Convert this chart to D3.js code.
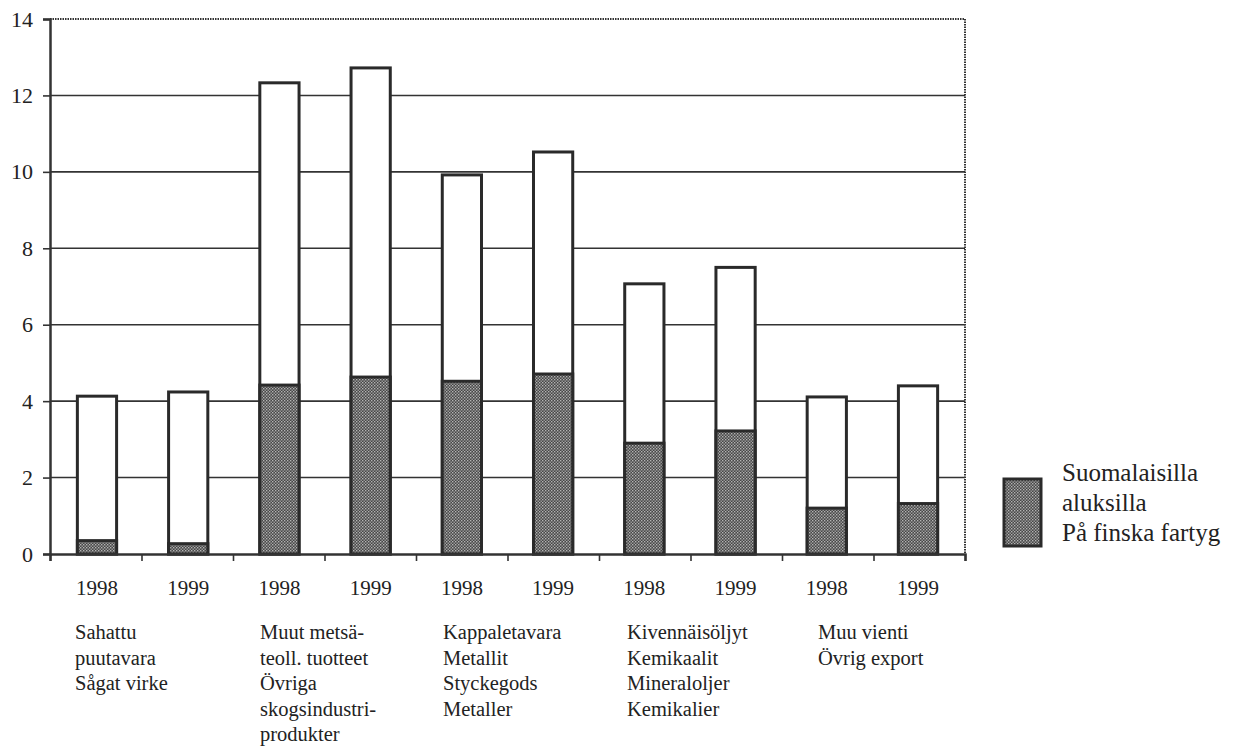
<!DOCTYPE html>
<html><head><meta charset="utf-8">
<script src="https://cdn.jsdelivr.net/npm/d3@7"></script>
<style>body{margin:0;background:#fff}svg{display:block}text{font-family:"Liberation Serif","Times New Roman",serif;fill:#222}</style>
</head><body><svg id="c" width="1233" height="750"></svg>
<script>
const years = ["1998","1999","1998","1999","1998","1999","1998","1999","1998","1999"];
const totals = [4.13, 4.24, 12.33, 12.72, 9.92, 10.52, 7.07, 7.5, 4.11, 4.4];
const finnish = [0.35, 0.27, 4.42, 4.63, 4.52, 4.71, 2.9, 3.22, 1.2, 1.32];
const groupLabels = [
  ["Sahattu","puutavara","Sågat virke"],
  ["Muut metsä-","teoll. tuotteet","Övriga","skogsindustri-","produkter"],
  ["Kappaletavara","Metallit","Styckegods","Metaller"],
  ["Kivennäisöljyt","Kemikaalit","Mineraloljer","Kemikalier"],
  ["Muu vienti","Övrig export"]
];
const yTicks = [0,2,4,6,8,10,12,14];
const legendLines = ["Suomalaisilla","aluksilla","På finska fartyg"];

const svg = d3.select("#c");
const L = 50, T = 19, W = 915, H = 535;
const g = svg.append("g").attr("transform",`translate(${L},${T})`);

const defs = svg.append("defs");
const pat = defs.append("pattern").attr("id","chk").attr("patternUnits","userSpaceOnUse").attr("width",3).attr("height",3);
pat.append("rect").attr("width",3).attr("height",3).attr("fill","#474747");
pat.append("rect").attr("x",0).attr("y",0).attr("width",1.4).attr("height",1.4).attr("fill","#b4b4b4");
pat.append("rect").attr("x",1.5).attr("y",1.5).attr("width",1.4).attr("height",1.4).attr("fill","#a4a4a4");

const x = d3.scaleBand().domain(d3.range(totals.length)).range([0,W]).paddingInner(0.57).paddingOuter(0.3);
const y = d3.scaleLinear().domain([0,14]).range([H,0]);

g.selectAll(".grid").data(yTicks.filter(d=>d>0&&d<14)).enter().append("line")
  .attr("x1",0).attr("x2",W).attr("y1",d=>y(d)).attr("y2",d=>y(d))
  .attr("stroke","#333").attr("stroke-width",1.6);

g.append("line").attr("x1",0).attr("x2",W).attr("y1",0).attr("y2",0).attr("stroke","#333").attr("stroke-width",2).attr("stroke-dasharray","1.5,1");
g.append("line").attr("x1",W).attr("x2",W).attr("y1",0).attr("y2",H).attr("stroke","#333").attr("stroke-width",2).attr("stroke-dasharray","1.5,1");

g.selectAll(".tot").data(totals).enter().append("rect")
  .attr("x",(d,i)=>x(i)).attr("width",x.bandwidth())
  .attr("y",d=>y(d)).attr("height",d=>H-y(d))
  .attr("fill","#fff").attr("stroke","#2a2a2a").attr("stroke-width",3);
g.selectAll(".fin").data(finnish).enter().append("rect")
  .attr("x",(d,i)=>x(i)).attr("width",x.bandwidth())
  .attr("y",d=>y(d)).attr("height",d=>H-y(d))
  .attr("fill","url(#chk)").attr("stroke","#2a2a2a").attr("stroke-width",3);

const yAxis = d3.axisLeft(y).tickValues(yTicks).tickSize(7).tickPadding(10).tickFormat(d3.format("d"));
const ya = g.append("g").call(yAxis);
ya.select(".domain").attr("stroke","#333").attr("stroke-width",2.5);
ya.selectAll(".tick line").attr("stroke","#333").attr("stroke-width",1.6);
ya.selectAll("text").attr("font-size",22).attr("fill","#222");

const xb = d3.scaleLinear().domain([0,totals.length]).range([0,W]);
const xa = g.append("g").attr("transform",`translate(0,${H})`)
  .call(d3.axisBottom(xb).ticks(totals.length).tickSize(7).tickFormat(""));
xa.select(".domain").attr("stroke","#333").attr("stroke-width",2.5);
xa.selectAll(".tick line").attr("stroke","#333").attr("stroke-width",1.6);

g.selectAll(".yr").data(years).enter().append("text")
  .attr("x",(d,i)=>x(i)+x.bandwidth()/2).attr("y",H+41)
  .attr("text-anchor","middle").attr("font-size",21).text(d=>d);

const gOff = [25,27,27,28,36];
groupLabels.forEach((lines,k)=>{
  const t = g.append("text").attr("font-size",20.5)
    .attr("x", xb(k*2)+gOff[k]).attr("y",H+85);
  lines.forEach((ln,j)=>t.append("tspan").attr("x",xb(k*2)+gOff[k]).attr("dy", j===0?0:25.5).text(ln));
});

svg.append("rect").attr("x",1004).attr("y",479).attr("width",37).attr("height",67)
  .attr("fill","url(#chk)").attr("stroke","#2a2a2a").attr("stroke-width",3);
legendLines.forEach((ln,j)=>svg.append("text").attr("x",1062).attr("y",481+j*30).attr("font-size",25).text(ln));
</script></body></html>
